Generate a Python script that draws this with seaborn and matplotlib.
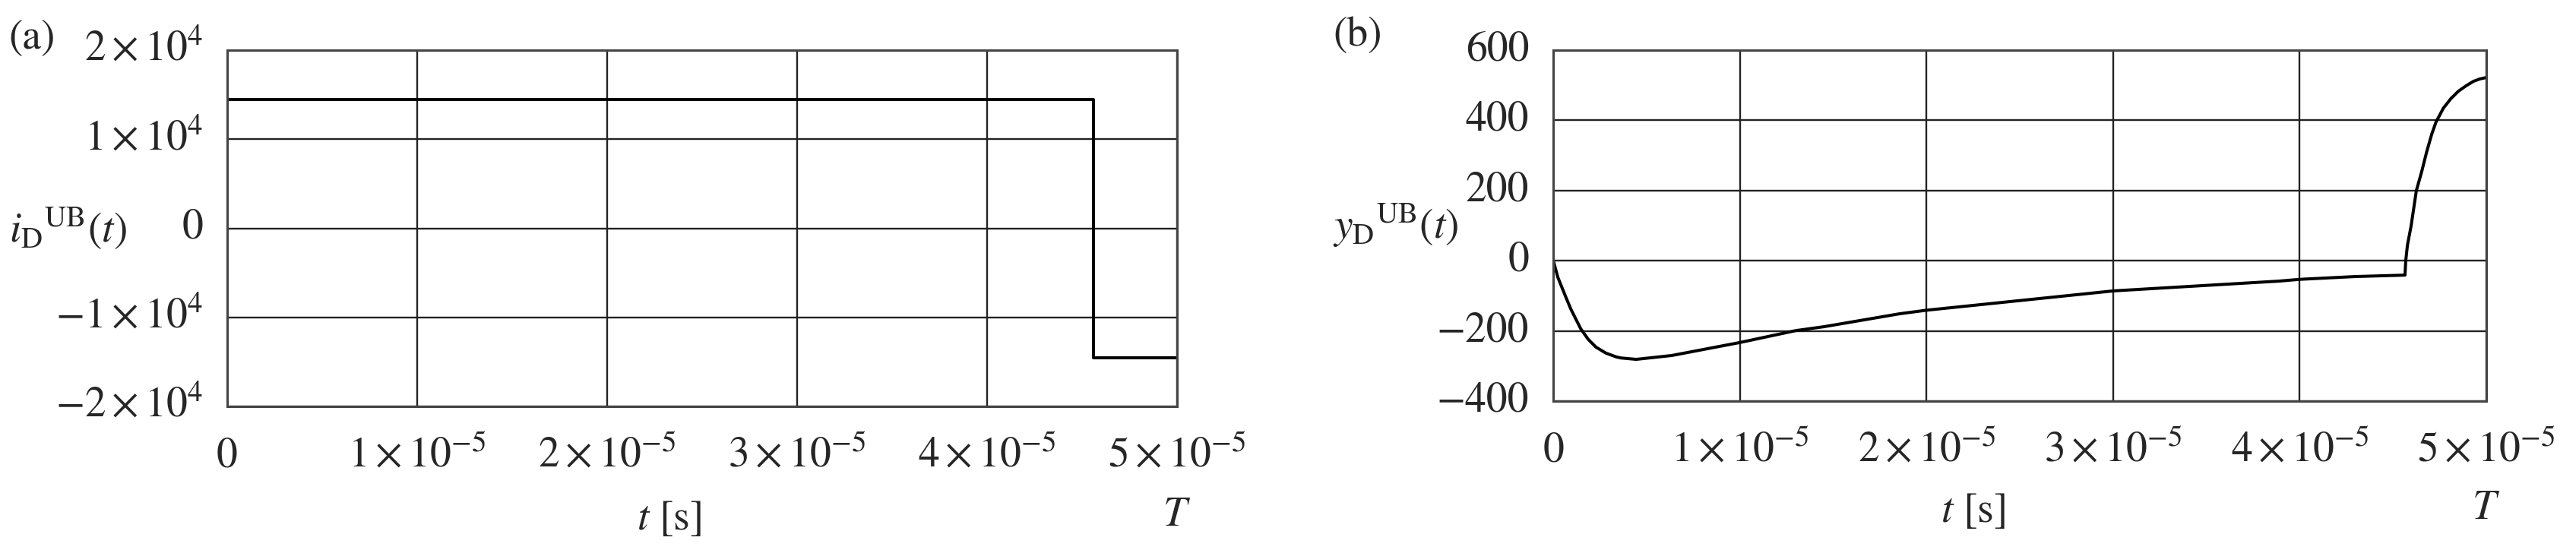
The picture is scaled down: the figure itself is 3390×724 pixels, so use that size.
import matplotlib
matplotlib.use("Agg")
import matplotlib.pyplot as plt
import matplotlib.transforms as mtransforms
import seaborn as sns

# panel (a): diode current bound, switches sign near the end of the period
t_a = [0.0, 4.56e-5, 4.56e-5, 5.0e-5]
i_a = [14500, 14500, -14500, -14500]

# panel (b): y_D^UB(t)
t_b = [0.0, 0.024e-5, 0.065e-5, 0.094e-5, 0.147e-5, 0.187e-5, 0.228e-5,
       0.281e-5, 0.337e-5, 0.362e-5, 0.444e-5, 0.635e-5,
       1.0e-5, 1.30e-5, 1.45e-5, 1.857e-5, 2.0e-5, 3.0e-5, 3.89e-5,
       4.0e-5, 4.3e-5, 4.564e-5, 4.568e-5, 4.577e-5, 4.597e-5, 4.625e-5,
       4.654e-5, 4.68e-5, 4.707e-5, 4.73e-5, 4.77e-5, 4.81e-5, 4.85e-5,
       4.89e-5, 4.93e-5, 4.965e-5, 5.0e-5]
y_b = [0, -47, -101, -138, -194, -224, -246,
       -263, -274, -277, -281, -270,
       -233, -199, -188, -151, -141, -86, -58,
       -53, -45, -41, 0, 44, 100, 200,
       255, 310, 360, 395, 435, 462, 483,
       498, 511, 518, 522]

x_ticks = [0, 1e-5, 2e-5, 3e-5, 4e-5, 5e-5]
x_ticklabels = ["0", r"$1\times10^{-5}$", r"$2\times10^{-5}$",
                r"$3\times10^{-5}$", r"$4\times10^{-5}$", r"$5\times10^{-5}$"]
ya_ticks = [-2e4, -1e4, 0, 1e4, 2e4]
ya_ticklabels = [r"$-2\times10^{4}$", r"$-1\times10^{4}$", "0",
                 r"$1\times10^{4}$", r"$2\times10^{4}$"]
yb_ticks = [-400, -200, 0, 200, 400, 600]
yb_ticklabels = ["\u2212400", "\u2212200", "0", "200", "400", "600"]

sns.set_style("white")
plt.rcParams["font.family"] = ["STIXGeneral", "DejaVu Serif"]
plt.rcParams["mathtext.fontset"] = "stix"

FS = 40

fig = plt.figure(figsize=(33.9, 7.24), dpi=100)
ax_a = fig.add_axes([0.0882, 0.2610, 0.3687, 0.6478])
ax_b = fig.add_axes([0.6030, 0.2707, 0.3622, 0.6381])

sns.lineplot(x=t_a, y=i_a, ax=ax_a, color="black", linewidth=2.9,
             sort=False, estimator=None)
sns.lineplot(x=t_b, y=y_b, ax=ax_b, color="black", linewidth=2.9,
             sort=False, estimator=None)


def style_axes(ax, yticks, yticklabels, ylim, ylabel, panel, xlab_x, lab_x, tag_y):
    ax.set_xlim(0, 5e-5)
    ax.set_ylim(*ylim)
    ax.set_xticks(x_ticks)
    ax.set_xticklabels(x_ticklabels, fontsize=FS)
    ax.set_yticks(yticks)
    ax.set_yticklabels(yticklabels, fontsize=FS, va="center")
    for lab in ax.get_xticklabels():
        lab.set_verticalalignment("baseline")
    ax.tick_params(axis="x", length=0, pad=57)
    ax.tick_params(axis="y", length=0, pad=23)
    ax.grid(True, color="#222222", linewidth=1.7)
    for sp in ax.spines.values():
        sp.set_color("#444444")
        sp.set_linewidth(2.2)

    ax.set_ylabel(ylabel, fontsize=FS, rotation=0, ha="left", va="center")
    ax.yaxis.set_label_coords(lab_x, 0.5)
    ax.set_xlabel(r"$t$ [s]", fontsize=FS, va="baseline")
    ax.xaxis.set_label_coords(xlab_x, -0.345)

    trans = mtransforms.blended_transform_factory(ax.transData, ax.transAxes)
    ax.text(5e-5, -0.335, r"$T$", transform=trans, fontsize=FS,
            ha="center", va="baseline")
    ax.text(lab_x, tag_y, panel, transform=ax.transAxes, fontsize=FS,
            ha="left", va="top")


style_axes(ax_a, ya_ticks, ya_ticklabels, (-2e4, 2e4),
           r"${i_{\mathrm{D}}}^{\mathrm{UB}}(t)$", "(a)", 0.465, -0.230, 1.087)
style_axes(ax_b, yb_ticks, yb_ticklabels, (-400, 600),
           r"${y_{\mathrm{D}}}^{\mathrm{UB}}(t)$", "(b)", 0.45, -0.236, 1.097)

fig.savefig("out.png", dpi=100, facecolor="white")
